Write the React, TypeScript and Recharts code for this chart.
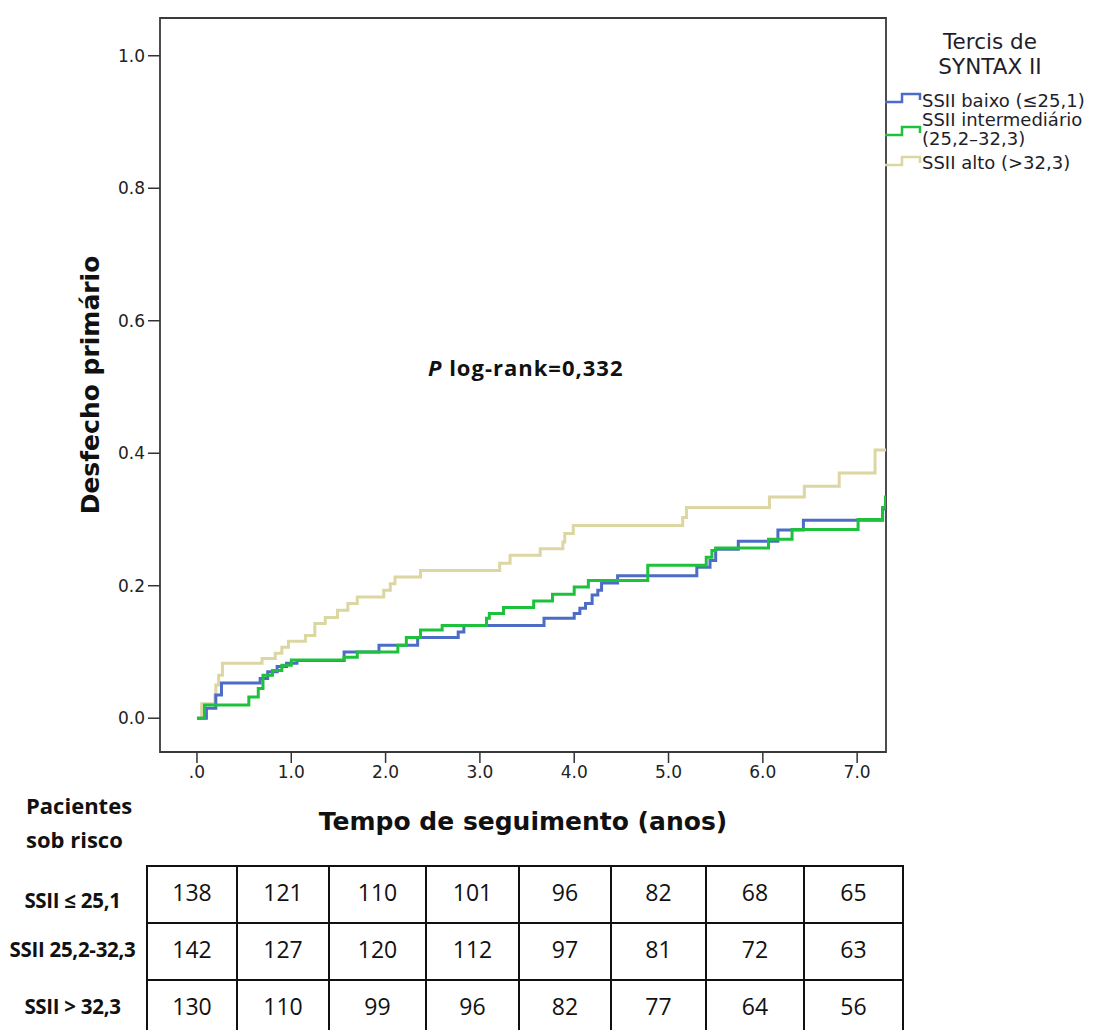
import React from "react";
import { LineChart, Line, XAxis, YAxis, ReferenceArea, Legend, Label } from "recharts";

// ---- Data ----
const baixoTime = [0, 0.1, 0.2, 0.26, 0.67, 0.75, 0.85, 0.95, 1.06, 1.56, 1.93, 2.34, 2.77, 2.83, 3.68, 4.0, 4.06, 4.12, 4.19, 4.25, 4.29, 4.46, 5.3, 5.44, 5.5, 5.74, 6.16, 6.43, 7.27, 7.31];
const baixoRisk = [0, 0.015, 0.035, 0.053, 0.06, 0.07, 0.078, 0.083, 0.087, 0.1, 0.11, 0.122, 0.13, 0.14, 0.151, 0.158, 0.166, 0.173, 0.186, 0.193, 0.204, 0.215, 0.228, 0.238, 0.255, 0.267, 0.284, 0.299, 0.316, 0.316];

const interTime = [0, 0.08, 0.55, 0.65, 0.7, 0.8, 0.9, 1.0, 1.56, 1.7, 2.13, 2.22, 2.37, 2.6, 3.07, 3.1, 3.25, 3.57, 3.77, 4.0, 4.15, 4.78, 5.4, 5.46, 5.5, 6.06, 6.31, 7.01, 7.27, 7.3, 7.31];
const interRisk = [0, 0.02, 0.032, 0.045, 0.065, 0.072, 0.08, 0.088, 0.092, 0.1, 0.11, 0.122, 0.133, 0.14, 0.151, 0.158, 0.167, 0.177, 0.187, 0.198, 0.208, 0.231, 0.243, 0.253, 0.257, 0.27, 0.285, 0.3, 0.318, 0.334, 0.334];

const altoTime = [0, 0.05, 0.19, 0.2, 0.23, 0.27, 0.69, 0.83, 0.9, 0.97, 1.15, 1.25, 1.36, 1.49, 1.6, 1.7, 1.98, 2.05, 2.1, 2.37, 3.21, 3.32, 3.64, 3.88, 3.9, 3.99, 5.15, 5.19, 6.07, 6.44, 6.81, 7.19, 7.31];
const altoRisk = [0, 0.022, 0.035, 0.05, 0.065, 0.083, 0.09, 0.098, 0.107, 0.116, 0.125, 0.143, 0.152, 0.163, 0.173, 0.183, 0.193, 0.203, 0.213, 0.223, 0.234, 0.246, 0.256, 0.266, 0.279, 0.291, 0.303, 0.318, 0.334, 0.35, 0.37, 0.405, 0.405];

const xTicks = [0, 1, 2, 3, 4, 5, 6, 7];
const yTicks = [0, 0.2, 0.4, 0.6, 0.8, 1.0];

const seriesNames = ["SSII baixo (≤25,1)", "SSII intermediário\n(25,2–32,3)", "SSII alto (>32,3)"];
const seriesColors = ["#4C6CC6", "#1EC13C", "#DCD6A2"];

const riskRowLabels = ["SSII ≤ 25,1", "SSII 25,2-32,3", "SSII > 32,3"];
const atRiskBaixo = [138, 121, 110, 101, 96, 82, 68, 65];
const atRiskInter = [142, 127, 120, 112, 97, 81, 72, 63];
const atRiskAlto = [130, 110, 99, 96, 82, 77, 64, 56];

const toPoints = (t: number[], v: number[]) => t.map((x, i) => ({ t: x, v: v[i] }));
const baixoData = toPoints(baixoTime, baixoRisk);
const interData = toPoints(interTime, interRisk);
const altoData = toPoints(altoTime, altoRisk);

const X_DOMAIN: [number, number] = [-0.392, 7.306];
const Y_DOMAIN: [number, number] = [-0.051, 1.057];

const legendTops = [92, 125, 155];
const textTops = [91, 110, 153];

const LegendBox = () => (
  <div style={{ position: "relative", width: 210, height: 180, fontFamily: "DejaVu Sans, sans-serif", color: "#1e1e2a" }}>
    <div style={{ position: "absolute", left: 0, top: 29, width: 212, textAlign: "center", fontSize: 21.5, lineHeight: "25px" }}>
      Tercis de
      <br />
      SYNTAX II
    </div>
    {seriesNames.map((name, i) => (
      <React.Fragment key={name}>
        <svg style={{ position: "absolute", left: 0, top: legendTops[i] }} width={38} height={14}>
          <path d="M1 10 H18 V2 H36 V8" fill="none" stroke={seriesColors[i]} strokeWidth={2.5} />
        </svg>
        <div style={{ position: "absolute", left: 38, top: textTops[i], fontSize: 18, lineHeight: "19px", whiteSpace: "pre" }}>{name}</div>
      </React.Fragment>
    ))}
  </div>
);

const colWidths = [90, 92, 97, 93, 92, 95, 98, 99];
const rowLabelCenters = [900, 949, 1006];

export default function App() {
  const rows = [atRiskBaixo, atRiskInter, atRiskAlto];
  return (
    <div style={{ position: "absolute", left: 0, top: 0, width: 1094, height: 1030, background: "#fff", overflow: "hidden" }}>
      <div style={{ position: "absolute", left: 0, top: 0 }}>
        <LineChart width={1094} height={850} margin={{ top: 18, right: 208, left: 100, bottom: 58 }}>
          <XAxis
            type="number"
            dataKey="t"
            domain={X_DOMAIN}
            allowDataOverflow
            ticks={xTicks}
            tickFormatter={(v: number) => (v === 0 ? ".0" : v.toFixed(1))}
            axisLine={false}
            tickSize={11}
            tickMargin={3}
            tickLine={{ stroke: "#333", strokeWidth: 1.5 }}
            tick={{ fill: "#222", fontSize: 17, fontFamily: "DejaVu Sans, sans-serif" }}
            height={40}
          >
            <Label
              value="Tempo de seguimento (anos)"
              position="bottom"
              offset={20}
              style={{ fontFamily: "DejaVu Sans, sans-serif", fontWeight: "bold", fontSize: 25, fill: "#111" }}
            />
          </XAxis>
          <YAxis
            type="number"
            domain={Y_DOMAIN}
            allowDataOverflow
            ticks={yTicks}
            tickFormatter={(v: number) => v.toFixed(1)}
            axisLine={false}
            tickSize={12}
            tickMargin={3}
            tickLine={{ stroke: "#333", strokeWidth: 1.5 }}
            tick={{ fill: "#222", fontSize: 17, fontFamily: "DejaVu Sans, sans-serif" }}
            width={60}
          >
            <Label
              value="Desfecho primário"
              position="left"
              angle={-90}
              offset={10}
              style={{ textAnchor: "middle", fontFamily: "DejaVu Sans, sans-serif", fontWeight: "bold", fontSize: 25, fill: "#111" }}
            />
          </YAxis>
          <ReferenceArea
            x1={X_DOMAIN[0]}
            x2={X_DOMAIN[1]}
            y1={Y_DOMAIN[0]}
            y2={Y_DOMAIN[1]}
            fill="none"
            fillOpacity={0}
            stroke="#3a3a3a"
            strokeWidth={1.8}
            ifOverflow="visible"
          />
          <Line data={altoData} dataKey="v" type="stepAfter" stroke={seriesColors[2]} strokeWidth={3} dot={false} activeDot={false} isAnimationActive={false} />
          <Line data={baixoData} dataKey="v" type="stepAfter" stroke={seriesColors[0]} strokeWidth={3} dot={false} activeDot={false} isAnimationActive={false} />
          <Line data={interData} dataKey="v" type="stepAfter" stroke={seriesColors[1]} strokeWidth={3} dot={false} activeDot={false} isAnimationActive={false} />
          <Legend
            layout="vertical"
            align="center"
            verticalAlign="middle"
            content={() => <LegendBox />}
            wrapperStyle={{ left: 884, top: 0, width: 210, height: 180 }}
          />
        </LineChart>
      </div>

      <div
        style={{
          position: "absolute",
          left: 428,
          top: 352,
          fontFamily: "Open Sans, sans-serif",
          fontWeight: "bold",
          fontSize: 22,
          letterSpacing: 1,
          color: "#111",
          whiteSpace: "nowrap",
        }}
      >
        <i>P</i> log-rank=0,332
      </div>

      <div
        style={{
          position: "absolute",
          left: 26,
          top: 788,
          fontFamily: "Open Sans, sans-serif",
          fontWeight: "bold",
          fontSize: 22,
          lineHeight: "34px",
          color: "#111",
        }}
      >
        Pacientes
        <br />
        sob risco
      </div>

      {riskRowLabels.map((lab, i) => (
        <div
          key={lab}
          style={{
            position: "absolute",
            left: 0,
            width: 145,
            top: rowLabelCenters[i] - 14,
            height: 28,
            lineHeight: "28px",
            textAlign: "center",
            fontFamily: "Open Sans, sans-serif",
            fontWeight: "bold",
            fontSize: 20.5,
            letterSpacing: -0.3,
            color: "#111",
            whiteSpace: "nowrap",
          }}
        >
          {lab}
        </div>
      ))}

      <table
        style={{
          position: "absolute",
          left: 146,
          top: 865,
          borderCollapse: "collapse",
          tableLayout: "fixed",
          fontFamily: "Open Sans, sans-serif",
          fontSize: 23,
          color: "#111",
        }}
      >
        <colgroup>
          {colWidths.map((w, i) => (
            <col key={i} style={{ width: w }} />
          ))}
        </colgroup>
        <tbody>
          {rows.map((r, ri) => (
            <tr key={ri} style={{ height: 57 }}>
              {r.map((n, ci) => (
                <td
                  key={ci}
                  style={{
                    border: "2px solid #111",
                    textAlign: "center",
                    verticalAlign: "middle",
                    padding: 0,
                    paddingBottom: 6,
                    lineHeight: "24px",
                  }}
                >
                  {n}
                </td>
              ))}
            </tr>
          ))}
        </tbody>
      </table>
    </div>
  );
}
